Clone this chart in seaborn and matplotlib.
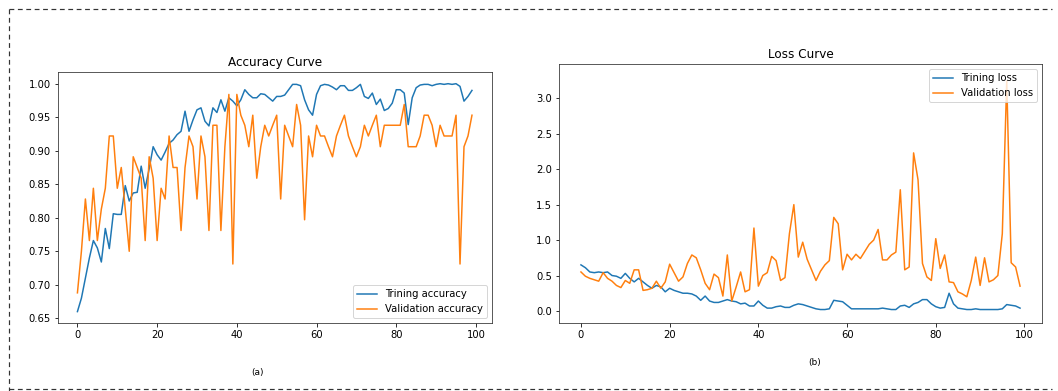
import numpy as np
import pandas as pd
import matplotlib
matplotlib.use("Agg")
import matplotlib.pyplot as plt
from matplotlib.lines import Line2D
import seaborn as sns

epochs = list(range(100))

train_acc = [0.660, 0.680, 0.710, 0.740, 0.766, 0.755, 0.734, 0.784, 0.754, 0.806,
             0.805, 0.805, 0.848, 0.825, 0.837, 0.838, 0.877, 0.844, 0.873, 0.906,
             0.894, 0.886, 0.898, 0.911, 0.916, 0.924, 0.929, 0.959, 0.929, 0.946,
             0.961, 0.964, 0.944, 0.937, 0.964, 0.957, 0.976, 0.959, 0.979, 0.974,
             0.967, 0.976, 0.991, 0.984, 0.979, 0.979, 0.985, 0.984, 0.979, 0.974,
             0.981, 0.981, 0.983, 0.991, 0.999, 0.999, 0.997, 0.976, 0.961, 0.953,
             0.984, 0.997, 0.999, 0.998, 0.995, 0.991, 0.997, 0.997, 0.990, 0.990,
             0.994, 0.999, 0.981, 0.978, 0.986, 0.969, 0.977, 0.960, 0.963, 0.971,
             0.991, 0.991, 0.986, 0.939, 0.979, 0.994, 0.998, 0.999, 0.999, 0.997,
             0.999, 1.000, 0.999, 1.000, 0.999, 1.000, 0.996, 0.974, 0.981, 0.990]

val_acc = [0.688, 0.750, 0.828, 0.766, 0.844, 0.766, 0.813, 0.844, 0.922, 0.922,
           0.844, 0.875, 0.813, 0.750, 0.891, 0.875, 0.859, 0.766, 0.891, 0.859,
           0.766, 0.844, 0.828, 0.922, 0.875, 0.875, 0.781, 0.875, 0.922, 0.906,
           0.828, 0.922, 0.891, 0.781, 0.938, 0.938, 0.781, 0.906, 0.984, 0.731,
           0.984, 0.953, 0.938, 0.906, 0.953, 0.859, 0.906, 0.938, 0.922, 0.938,
           0.953, 0.828, 0.938, 0.922, 0.906, 0.969, 0.938, 0.797, 0.922, 0.891,
           0.938, 0.922, 0.922, 0.906, 0.891, 0.922, 0.938, 0.953, 0.922, 0.906,
           0.891, 0.906, 0.938, 0.922, 0.938, 0.953, 0.906, 0.938, 0.938, 0.938,
           0.938, 0.938, 0.969, 0.906, 0.906, 0.906, 0.922, 0.953, 0.953, 0.938,
           0.906, 0.938, 0.922, 0.922, 0.922, 0.953, 0.731, 0.906, 0.922, 0.953]

train_loss = [0.65, 0.61, 0.55, 0.54, 0.55, 0.54, 0.55, 0.50, 0.49, 0.46,
              0.53, 0.46, 0.41, 0.46, 0.41, 0.36, 0.32, 0.36, 0.34, 0.27,
              0.32, 0.29, 0.27, 0.25, 0.25, 0.24, 0.21, 0.15, 0.21, 0.14,
              0.12, 0.12, 0.14, 0.16, 0.14, 0.13, 0.10, 0.11, 0.07, 0.07,
              0.14, 0.08, 0.04, 0.04, 0.06, 0.07, 0.05, 0.05, 0.08, 0.10,
              0.09, 0.07, 0.05, 0.03, 0.02, 0.02, 0.03, 0.15, 0.14, 0.13,
              0.08, 0.03, 0.03, 0.03, 0.03, 0.03, 0.03, 0.03, 0.04, 0.03,
              0.02, 0.02, 0.07, 0.08, 0.05, 0.10, 0.12, 0.16, 0.16, 0.10,
              0.06, 0.04, 0.05, 0.25, 0.10, 0.04, 0.03, 0.02, 0.02, 0.03,
              0.02, 0.02, 0.02, 0.02, 0.02, 0.03, 0.09, 0.08, 0.07, 0.04]

val_loss = [0.55, 0.49, 0.46, 0.44, 0.42, 0.54, 0.46, 0.42, 0.36, 0.33,
            0.43, 0.39, 0.58, 0.58, 0.29, 0.30, 0.32, 0.42, 0.32, 0.41,
            0.66, 0.54, 0.42, 0.48, 0.67, 0.79, 0.75, 0.58, 0.39, 0.30,
            0.52, 0.47, 0.21, 0.79, 0.14, 0.34, 0.55, 0.27, 0.30, 1.17,
            0.35, 0.50, 0.54, 0.77, 0.71, 0.43, 0.47, 1.09, 1.50, 0.76,
            0.97, 0.73, 0.58, 0.43, 0.56, 0.65, 0.71, 1.32, 1.23, 0.58,
            0.80, 0.72, 0.80, 0.74, 0.84, 0.94, 1.00, 1.15, 0.72, 0.72,
            0.79, 0.83, 1.71, 0.58, 0.62, 2.23, 1.85, 0.67, 0.48, 0.43,
            1.02, 0.60, 0.79, 0.41, 0.40, 0.27, 0.24, 0.20, 0.43, 0.76,
            0.36, 0.75, 0.41, 0.44, 0.50, 1.09, 3.25, 0.68, 0.62, 0.35]

W, H, DPI = 1058, 391, 72
fig = plt.figure(figsize=(W / DPI, H / DPI), dpi=DPI)

def rect(x0, y0, x1, y1):
    return [x0 / W, 1 - y1 / H, (x1 - x0) / W, (y1 - y0) / H]

ax1 = fig.add_axes(rect(57.7, 72.3, 491.7, 323))
ax2 = fig.add_axes(rect(559, 64.3, 1042, 323))

blue = "#1f77b4"
orange = "#ff7f0e"

sns.lineplot(x=epochs, y=train_acc, ax=ax1, color=blue, label="Trining accuracy", linewidth=1.5)
sns.lineplot(x=epochs, y=val_acc, ax=ax1, color=orange, label="Validation accuracy", linewidth=1.5)
ax1.set_title("Accuracy Curve", fontsize=12)
ax1.legend(loc="lower right", fontsize=10)

sns.lineplot(x=epochs, y=train_loss, ax=ax2, color=blue, label="Trining loss", linewidth=1.5)
sns.lineplot(x=epochs, y=val_loss, ax=ax2, color=orange, label="Validation loss", linewidth=1.5)
ax2.set_title("Loss Curve", fontsize=12)
ax2.legend(loc="upper right", fontsize=10)
ax2.set_ylim(-0.17, 3.48)

for ax in (ax1, ax2):
    ax.set_xlabel("")
    ax.set_ylabel("")
    ax.tick_params(labelsize=10)
    for s in ax.spines.values():
        s.set_color("#333333")

fig.text(258 / W, 1 - 373 / H, "(a)", fontsize=9, ha="center", va="center")
fig.text(815 / W, 1 - 363 / H, "(b)", fontsize=9, ha="center", va="center")

dash = dict(color="#333333", linewidth=1.2, linestyle=(0, (4, 3)))
fig.add_artist(Line2D([9 / W, 1052 / W], [1 - 9 / H, 1 - 9 / H], **dash))
fig.add_artist(Line2D([9 / W, 9 / W], [1 - 9 / H, 0], **dash))
fig.add_artist(Line2D([9 / W, 1052 / W], [1 - 389 / H, 1 - 389 / H], **dash))

fig.savefig("out.png", dpi=DPI)
